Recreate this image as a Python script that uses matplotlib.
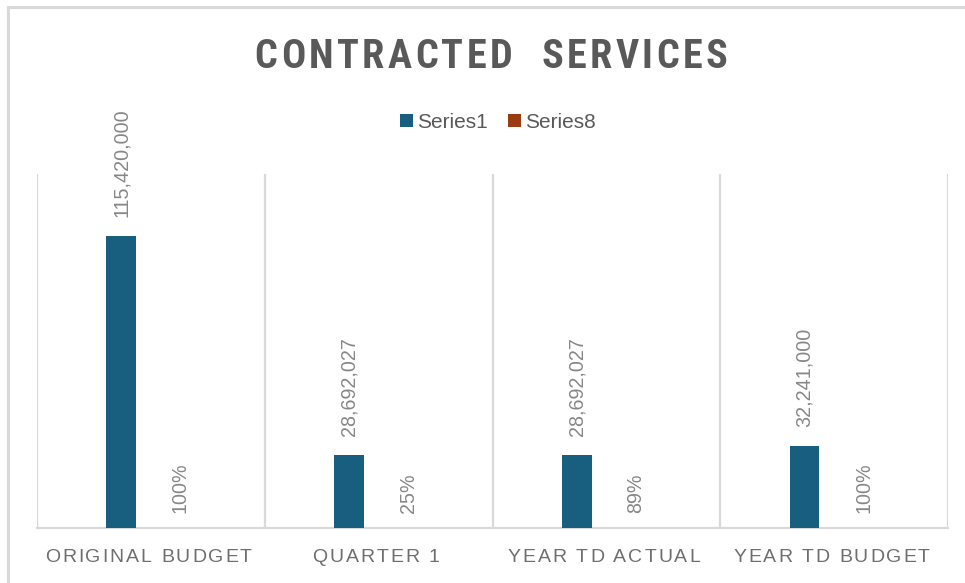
import matplotlib
matplotlib.use("Agg")
import matplotlib.pyplot as plt
import numpy as np
from matplotlib import font_manager
from matplotlib.ft2font import FT2Font
from matplotlib.lines import Line2D

categories = ["ORIGINAL BUDGET", "QUARTER 1", "YEAR TD ACTUAL", "YEAR TD BUDGET"]
series1 = [115420000, 28692027, 28692027, 32241000]
series8 = [1.00, 0.25, 0.89, 1.00]
series_names = ["Series1", "Series8"]
title = "CONTRACTED  SERVICES"

BLUE = "#175E7F"
RUST = "#9C3B12"
GRID = "#D9D9D9"
TEXT_DARK = "#595959"
TEXT_MID = "#6E6E6E"
TEXT_LIGHT = "#878787"

W, H, DPI = 965, 583, 100

available = {f.name for f in font_manager.fontManager.ttflist}
BODY = "Liberation Sans" if "Liberation Sans" in available else "DejaVu Sans"
TITLE_FONT = BODY
for cand in ["Liberation Sans Narrow", "Roboto Condensed", "DejaVu Sans Condensed"]:
    if cand in available:
        TITLE_FONT = cand
        break


def advances(s, prop):
    # per-character advance widths in pixels
    font = FT2Font(font_manager.findfont(prop))
    font.set_size(prop.get_size_in_points(), DPI)
    out = []
    for ch in s:
        g = font.load_char(ord(ch))
        out.append(g.linearHoriAdvance / 65536)
    return out


def spaced_text(fig, cx, cy, s, spacing, prop, color):
    # letter-spaced text centred on (cx, cy) in pixel coords (origin top-left)
    adv = advances(s, prop)
    total = sum(adv) + spacing * (len(s) - 1)
    x = cx - total / 2
    for ch, a in zip(s, adv):
        if ch != " ":
            fig.text(x / W, 1 - cy / H, ch, fontproperties=prop, color=color,
                     ha="left", va="center_baseline")
        x += a + spacing


fig = plt.figure(figsize=(W / DPI, H / DPI), dpi=DPI)
fig.patch.set_facecolor("white")

# outer chart border (only top and left edges fall inside the image)
fig.add_artist(Line2D([8 / W, 1], [1 - 7 / H, 1 - 7 / H], color=GRID, lw=2.2,
                      transform=fig.transFigure))
fig.add_artist(Line2D([8 / W, 8 / W], [1 - 7 / H, 0], color=GRID, lw=2.2,
                      transform=fig.transFigure))

left, right, base, top = 37, 948, 528, 174
ax = fig.add_axes([left / W, 1 - base / H, (right - left) / W, (base - top) / H])

x = np.arange(len(categories))
bw = 0.13
b1 = ax.bar(x - bw, series1, width=bw, color=BLUE, label=series_names[0], zorder=3)
b2 = ax.bar(x + bw, series8, width=bw, color=RUST, label=series_names[1], zorder=3)

ax.set_xlim(-0.5, len(categories) - 0.5)
ax.set_ylim(0, 140000000)
for xv in np.arange(-0.5, len(categories), 1.0):
    ax.axvline(xv, color=GRID, lw=1.6, zorder=1)
for side in ["top", "right", "left"]:
    ax.spines[side].set_visible(False)
ax.spines["bottom"].set_color(GRID)
ax.spines["bottom"].set_linewidth(1.6)
ax.set_xticks([])
ax.set_yticks([])
ax.set_facecolor("none")

lab_prop = font_manager.FontProperties(family=BODY, size=14.2)
for rect, v in zip(b1, series1):
    ax.annotate(f"{v:,.0f}", (rect.get_x() + rect.get_width() / 2, v),
                xytext=(0, 19), textcoords="offset pixels", rotation=90,
                ha="center", va="bottom", color=TEXT_LIGHT, fontproperties=lab_prop)
for rect, v in zip(b2, series8):
    ax.annotate(f"{v:.0%}", (rect.get_x() + rect.get_width() / 2, v),
                xytext=(0, 15), textcoords="offset pixels", rotation=90,
                ha="center", va="bottom", color=TEXT_LIGHT, fontproperties=lab_prop)

# category labels, letter spaced
cat_prop = font_manager.FontProperties(family=BODY, size=14)
fig.canvas.draw()
for xi, name in zip(x, categories):
    px = ax.transData.transform((xi, 0))[0]
    spaced_text(fig, px - 2.5, 556, name, 1.95, cat_prop, TEXT_MID)

# title
title_prop = font_manager.FontProperties(family=TITLE_FONT, size=29, weight="bold")
spaced_text(fig, 491, 53, title, 3.4, title_prop, TEXT_DARK)

leg = fig.legend(handles=[b1, b2], labels=series_names, loc="center",
                 bbox_to_anchor=(498 / W, 1 - 122 / H), ncol=2, frameon=False,
                 prop=font_manager.FontProperties(family=BODY, size=15),
                 handlelength=0.6, handleheight=0.6, handletextpad=0.2,
                 columnspacing=1.0, labelcolor=TEXT_DARK)

fig.savefig("out.png", dpi=DPI, facecolor="white")
